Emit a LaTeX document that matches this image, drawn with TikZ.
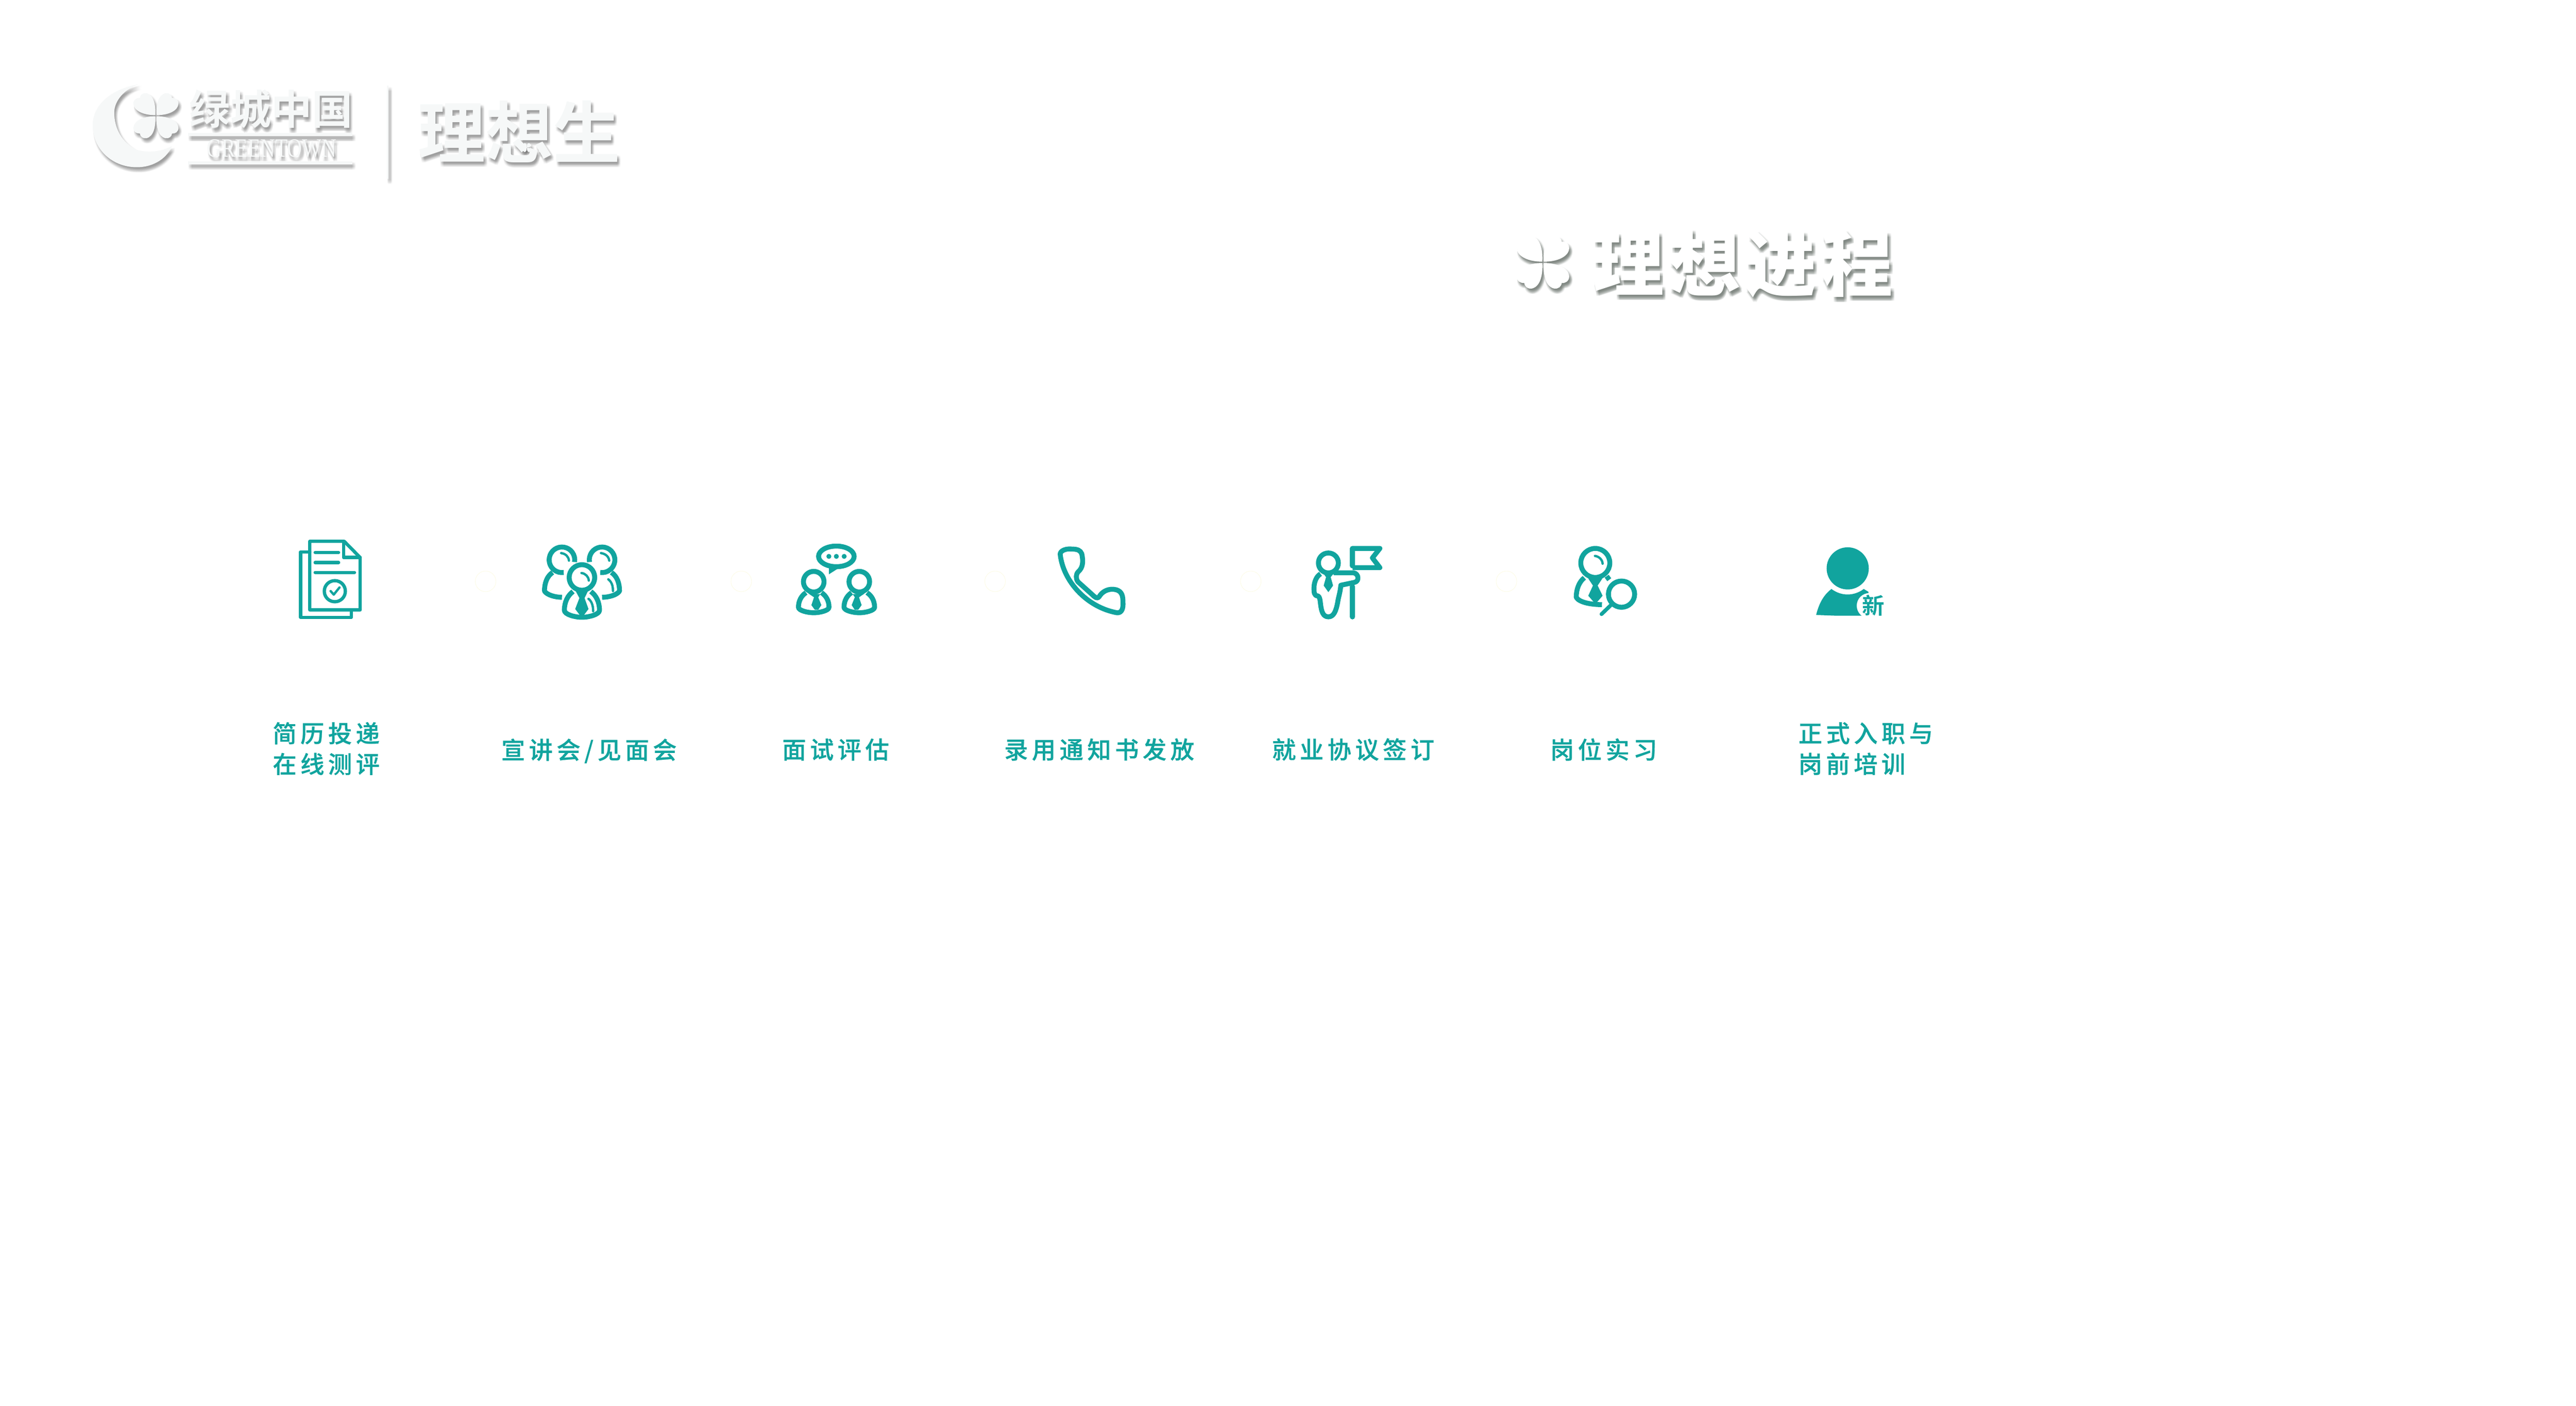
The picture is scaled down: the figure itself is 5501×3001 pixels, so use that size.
\documentclass[tikz,border=0pt]{standalone}
\usepackage{fontspec}
\newfontfamily\cjk[LetterSpace=16,FakeBold=.6]{Noto Sans CJK SC Medium}
\newfontfamily\cjkplain{Noto Sans CJK SC Bold}
\newfontfamily\heavy[LetterSpace=7]{Noto Sans CJK SC Black}
\newfontfamily\latinbrand[FakeStretch=.78]{Liberation Serif}
\definecolor{stagegreen}{HTML}{11A49E}
\definecolor{logowhite}{HTML}{F6F8F8}
\definecolor{faintring}{HTML}{FCFBE6}
\definecolor{titleshade}{HTML}{3F4A42}
\tikzset{
  thinline/.style={draw=stagegreen, line width=.71pt, line cap=round, line join=round},
  docline/.style={draw=stagegreen, line width=1pt, line cap=round, line join=round},
  iconline/.style={draw=stagegreen, line width=1.5pt, line join=round},
  tiefill/.style={fill=stagegreen},
  ring/.style={draw=faintring, line width=.15pt},
  paint/.style={fill=white},
  painttext/.style={text=white}
}
\tikzstyle{stage}=[anchor=west, text=stagegreen, align=left, inner sep=0pt, font=\cjk\fontsize{7.26pt}{9.33pt}\selectfont]
\tikzstyle{brand}=[inner sep=0pt, painttext]

% soft shadow first, the shape itself on top
\newcommand{\softcopy}[4]{%
  \foreach \dx in {1,3,5,7} \foreach \dy in {3,5,7,9,11} {
    \begin{scope}[shift={(\dx,\dy)}, fill opacity=#2, text opacity=#2, paint/.style={fill=#1}, painttext/.style={text=#1}]
      #4
    \end{scope}
  }
  \begin{scope}[paint/.style={fill=#3}, painttext/.style={text=#3}]
    #4
  \end{scope}
}
\newcommand{\petals}[3]{%
  \foreach \sx/\sy in {1/1,-1/1,1/-1,-1/-1} {
    \fill[paint, shift={(#1,#2)}, xscale=\sx*#3, yscale=\sy*#3]
      (1.5,-1.5) .. controls (0,-25) and (5,-52) .. (24,-56)
      .. controls (33,-57) and (39,-52) .. (40,-44)
      .. controls (48,-45) and (56,-40) .. (56,-30)
      .. controls (55,-12) and (30,-1) .. (1.5,-1.5) -- cycle;
  }
}
% head ring and body outline of one figure
\newcommand{\staff}[5]{%
  \draw[iconline] (#1,#2) circle (#3);
  \begin{scope}[shift={(#1,#2)}, xscale=#4, yscale=#5]
    \draw[iconline] (-19,30) .. controls (-30,38) and (-37.5,52) .. (-37.5,70)
      .. controls (-37.5,79) and (-15,85) .. (0,85)
      .. controls (15,85) and (37.5,79) .. (37.5,70)
      .. controls (37.5,52) and (30,38) .. (19,30);
  \end{scope}
}

\begin{document}
\begin{tikzpicture}[x=.005cm, y=-.005cm]
  \useasboundingbox (0,0) rectangle (5501,3001);

  % logo
  \softcopy{black}{.024}{logowhite}{
    \fill[paint] (296,180) .. controls (236,190) and (198,225) .. (198,267)
      .. controls (198,320) and (241,357) .. (292,357)
      .. controls (331,357) and (358,335) .. (367,312)
      .. controls (341,325) and (316,326) .. (292,320)
      .. controls (261,305) and (244,275) .. (244,240)
      .. controls (244,215) and (266,190) .. (296,180) -- cycle;
    \petals{333}{247}{.86}
    \node (logoname) [brand, font=\cjkplain\fontsize{12.4pt}{12.4pt}\selectfont] at (579,233) {绿城中国};
    \fill[paint] (402,284) rectangle (752,291);
    \node (logolatin) [brand, font=\latinbrand\fontsize{8pt}{8pt}\selectfont] at (580,317) {GREENTOWN};
    \fill[paint] (402,344) rectangle (752,351);
    \fill[paint] (826,183) rectangle (830,382);
    \node (logoprog) [brand, font=\cjkplain\fontsize{20.5pt}{20.5pt}\selectfont] at (1109,281) {理想生};
    \petals{1125}{315}{.17}
    \petals{1157}{319}{.12}
  }

  % title
  \softcopy{titleshade}{.05}{white}{
    \petals{3295}{560}{1}
    \node (title) [brand, font=\heavy\fontsize{21.7pt}{21.7pt}\selectfont] at (3722,563) {理想进程};
  }

  % faint rings between the icons
  \foreach \rx in {1037,1583,2125,2671,3217}
    \draw[ring] (\rx,1241) circle (22);

  % resume
  \draw[docline] (661.5,1178) -- (642,1178) -- (642,1318) -- (750,1318) -- (750,1302);
  \draw[docline] (661.5,1302) -- (661.5,1155.5) -- (735,1155.5) -- (769,1190) -- (769,1302) -- cycle;
  \draw[docline] (733.5,1155.5) -- (733.5,1190) -- (769,1190);
  \draw[docline] (673,1179.5) -- (723,1179.5);
  \draw[docline] (673,1200.7) -- (723,1200.7);
  \draw[docline] (673,1222) -- (757,1222);
  \draw[docline] (715,1262) circle (22.5);
  \draw[thinline] (706,1261.7) -- (712.7,1269.3) -- (725,1254);

  % briefing
  \draw[iconline] (1200,1195) ++(10:27.3) arc[start angle=10, end angle=-278, radius=27.3];
  \draw[iconline] (1285.7,1195) ++(170:27.3) arc[start angle=170, end angle=458, radius=27.3];
  \draw[iconline] (1180,1222) .. controls (1168,1230) and (1162.7,1245) .. (1162.7,1261.7) .. controls (1168,1270) and (1185,1275) .. (1200,1275);
  \draw[iconline] (1305.7,1222) .. controls (1317.7,1230) and (1323,1245) .. (1323,1261.7) .. controls (1317.7,1270) and (1300.7,1275) .. (1285.7,1275);
  \draw[thinline] (1198.3,1180.7) .. controls (1208,1182) and (1214,1188) .. (1215,1196.7);
  \draw[thinline] (1283.3,1180.7) .. controls (1293,1182) and (1300,1188) .. (1301,1196.7);
  \draw[thinline] (1299,1236.7) .. controls (1306,1242) and (1309,1250) .. (1309,1261.7);
  \staff{1242.7}{1232.7}{27.3}{1}{1}
  \fill[tiefill] (1230,1263) -- (1237.3,1276.7) -- (1228.3,1300) -- (1238.3,1313.3) -- (1246.7,1313.3) -- (1256.7,1300) -- (1248.3,1276.7) -- (1255,1263) -- cycle;
  \draw[thinline] (1241.7,1223.3) .. controls (1250,1224) and (1257,1231) .. (1257.3,1239.3);
  \draw[thinline] (1256.7,1278.3) .. controls (1263,1283) and (1266.7,1292) .. (1266.7,1304.7);

  % interview
  \staff{1737.7}{1241.7}{22}{.87}{.78}
  \staff{1835}{1241.7}{22}{.87}{.78}
  \fill[tiefill] (1726,1266.7) -- (1738.3,1275) -- (1732.7,1291.7) -- (1740,1301.7) -- (1747.3,1301.7) -- (1754,1291.7) -- (1747.3,1275) -- (1751.7,1268.3) -- cycle;
  \fill[tiefill] (1846.7,1266.7) -- (1834.4,1275) -- (1840,1291.7) -- (1832.7,1301.7) -- (1825.4,1301.7) -- (1818.7,1291.7) -- (1825.4,1275) -- (1821,1268.3) -- cycle;
  \draw[iconline] (1786,1187.7) ellipse (38 and 22);
  \fill[tiefill] (1770,1205) -- (1770,1226) -- (1792,1212) -- cycle;
  \foreach \bx in {1770,1786,1802.7}
    \fill[tiefill] (\bx,1187.7) circle (5.3);

  % phone
  \draw[iconline] (2264,1183) .. controls (2264,1176) and (2275,1171) .. (2287,1172)
    .. controls (2302,1172) and (2307,1175) .. (2310,1182)
    .. controls (2314,1200) and (2312,1212) .. (2303,1220)
    .. controls (2297,1226) and (2297,1235) .. (2302,1242)
    -- (2331,1268) .. controls (2340,1277) and (2344,1278) .. (2347,1274)
    .. controls (2354,1262) and (2368,1255) .. (2384,1259)
    .. controls (2396,1263) and (2398,1272) .. (2398,1285)
    .. controls (2399,1298) and (2396,1309) .. (2385,1308)
    .. controls (2320,1296) and (2270,1240) .. (2264,1183) -- cycle;

  % flag
  \draw[iconline, line cap=round] (2888.3,1170.7) -- (2888.3,1208);
  \draw[iconline, line cap=round] (2888.3,1252) -- (2888.3,1317);
  \draw[iconline] (2888.3,1170.7) -- (2946.7,1170.7) -- (2930.7,1191) -- (2946.7,1211.7) -- (2888.3,1211.7);
  \draw[iconline] (2836.7,1201.7) circle (21.3);
  \draw[iconline] (2848,1222.7) -- (2890,1222.7) .. controls (2902,1224) and (2903,1241) .. (2893,1243)
    -- (2863.3,1249.3) .. controls (2862,1265) and (2858,1275) .. (2856.7,1285)
    .. controls (2853,1305) and (2848,1316.7) .. (2836.7,1316.7)
    .. controls (2825,1316.7) and (2822,1305) .. (2820,1290)
    .. controls (2819,1280) and (2818,1273) .. (2814,1272)
    .. controls (2806,1272) and (2806,1264) .. (2806,1255)
    .. controls (2806,1243) and (2811,1230) .. (2820,1225);
  \fill[tiefill] (2826,1224) -- (2831.7,1232) -- (2826.7,1250) -- (2836.7,1264) -- (2846.7,1250) -- (2841.7,1232) -- (2848,1224) -- cycle;

  % internship
  \draw[iconline] (3406.7,1201.7) circle (31);
  \draw[thinline] (3406,1186.7) .. controls (3415,1188) and (3422,1195) .. (3422.3,1203.3);
  \draw[iconline] (3383.3,1233.3) .. controls (3372,1242) and (3366,1258) .. (3366,1275)
    .. controls (3372,1286) and (3398,1290.7) .. (3421,1290.7);
  \draw[iconline] (3431,1230) -- (3436.5,1237.5);
  \fill[tiefill] (3391.7,1235) -- (3401.7,1250) -- (3391.7,1271.7) -- (3403.3,1285) -- (3410.7,1285) -- (3422.3,1271.7) -- (3411.7,1250) -- (3421.7,1235) -- (3406.7,1230) -- cycle;
  \draw[iconline] (3462.7,1268.3) circle (28);
  \draw[docline, line width=1.15pt] (3440,1291.7) -- (3420,1311);

  % new employee
  \fill[tiefill] (3945.7,1213.3) circle (45);
  \fill[tiefill] (3878.3,1312.7) .. controls (3884,1290) and (3893,1271) .. (3911,1257.3)
    .. controls (3932,1273) and (3959,1273) .. (3980,1257.3) -- (3990,1263.3) -- (3990,1314.3) -- (3920,1314.3) -- cycle;
  \fill[white] (3992,1293) circle (27);
  \fill[white] (3992,1290) rectangle (4030,1320);
  \node (newmark) [text=stagegreen, inner sep=0pt, font=\cjkplain\fontsize{6.8pt}{6.8pt}\selectfont] at (4000,1292) {新};

  % stage names
  \node (resume) [stage] at (581,1598) {简历投递\\在线测评};
  \node (briefing) [stage] at (1069,1603) {宣讲会/见面会};
  \node (interview) [stage] at (1669,1600) {面试评估};
  \node (offer) [stage] at (2143,1600) {录用通知书发放};
  \node (contract) [stage] at (2715,1600) {就业协议签订};
  \node (intern) [stage] at (3309,1600) {岗位实习};
  \node (onboard) [stage] at (3839,1598) {正式入职与\\岗前培训};
\end{tikzpicture}
\end{document}
